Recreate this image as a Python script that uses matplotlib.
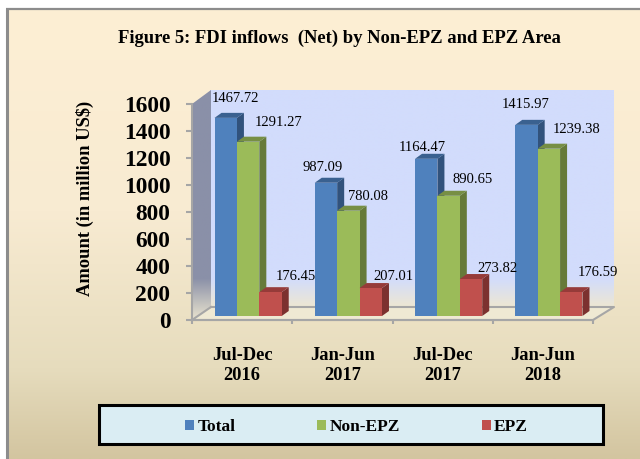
import numpy as np
import matplotlib
matplotlib.use("Agg")
import matplotlib.pyplot as plt
from matplotlib.colors import LinearSegmentedColormap
from matplotlib.patches import Polygon, Rectangle
from matplotlib.transforms import Affine2D

plt.rcParams['font.family'] = ['Liberation Serif', 'DejaVu Serif']

# Values
categories = ["Jul-Dec\n2016", "Jan-Jun\n2017", "Jul-Dec\n2017", "Jan-Jun\n2018"]
total = [1467.72, 987.09, 1164.47, 1415.97]
non_epz = [1291.27, 780.08, 890.65, 1239.38]
epz = [176.45, 207.01, 273.82, 176.59]
y_ticks = [0, 200, 400, 600, 800, 1000, 1200, 1400, 1600]

series_names = ["Total", "Non-EPZ", "EPZ"]
front_colors = ["#4F81BD", "#9BBB59", "#C0504D"]
side_colors = ["#31527C", "#667A39", "#7C312F"]
top_colors = ["#3A6190", "#778F44", "#963B39"]

# label nudges in pixels from the top-centre of each bar (right, up)
label_nudge = [
    [(10, 19), (30, 19), (25, 16)],
    [(-3, 15), (20, 14), (23, 12)],
    [(-4, 11), (24, 16), (26, 11)],
    [(-1, 20), (28, 19), (27, 20)],
]

W, H = 640, 459
fig = plt.figure(figsize=(W / 100, H / 100), dpi=100, facecolor="white")

# background layer, in pixel coordinates
bg = fig.add_axes([0, 0, 1, 1])
bg.axis("off")


def gradient(stops, extent, zorder, clip=None):
    cmap = LinearSegmentedColormap.from_list("g", stops)
    im = bg.imshow(np.linspace(0, 1, 256).reshape(-1, 1), cmap=cmap, extent=extent,
                   aspect="auto", zorder=zorder, interpolation="bilinear")
    if clip is not None:
        patch = Polygon(clip, closed=True, transform=bg.transData)
        im.set_clip_path(patch)
    return im


gradient([(0, "#FDEFD4"), (0.45, "#F8EBD2"), (0.8, "#E6DCBD"), (1, "#D3C5A0")], (8, W, H, 9), 0)
bg.plot([7, 7], [H, 8], color="#8C8C8C", lw=2.2, zorder=1, solid_capstyle="butt")
bg.plot([6, W], [8.5, 8.5], color="#8C8C8C", lw=1.6, zorder=1, solid_capstyle="butt")

gradient([(0, "#D2DCFC"), (0.87, "#D2DCFC"), (1, "#EDE7D3")], (210, 614, 307, 90), 2)
gradient([(0, "#8A90A8"), (0.82, "#8A90A8"), (1, "#EAE4CF")], (192, 211, 320, 90), 2,
         clip=[(192, 104), (211, 90), (211, 307), (192, 320)])
bg.add_patch(Polygon([(192, 320), (211, 307), (614, 307), (593, 320)], closed=True,
                     facecolor="#EFE9D3", edgecolor="none", zorder=2))
grey = "#A6A6A6"
bg.plot([211, 614, 593, 192, 211], [307, 307, 320, 320, 307], color=grey, lw=1.5, zorder=3)

# legend box
bg.add_patch(Rectangle((99, 405), 504, 39, facecolor="#DAEDF3", edgecolor="black", lw=2.2, zorder=3))
bg.set_xlim(0, W)
bg.set_ylim(H, 0)

fig.text(339 / W, 1 - 38 / H, "Figure 5: FDI inflows  (Net) by Non-EPZ and EPZ Area",
         ha="center", va="center", fontsize=13.4, fontweight="bold")

# main axes is the front plane of the 3D box
ax = fig.add_axes([192 / W, 1 - 320 / H, (593 - 192) / W, (320 - 104) / H])
ax.patch.set_alpha(0)
ax.set_xlim(0, 4)
ax.set_ylim(0, 1600)

px_x = 4 / (593 - 192)
px_y = 1600 / (320 - 104)
shift = ax.transData + Affine2D().translate(6, 4)  # bars sit back in the box

bar_w = 22.4 * px_x
depth_x = 7 * px_x
depth_y = 5 * px_y
x = np.arange(len(categories)) + 0.5

handles = []
for i, vals in enumerate([total, non_epz, epz]):
    xs = x + (i - 1) * bar_w
    for xc, v in zip(xs, vals):
        l, r = xc - bar_w / 2, xc + bar_w / 2
        ax.add_patch(Polygon([(r, 0), (r + depth_x, depth_y), (r + depth_x, v + depth_y), (r, v)],
                             closed=True, facecolor=side_colors[i], edgecolor="none",
                             transform=shift, clip_on=False, zorder=3 + i))
        ax.add_patch(Polygon([(l, v), (l + depth_x, v + depth_y), (r + depth_x, v + depth_y), (r, v)],
                             closed=True, facecolor=top_colors[i], edgecolor="none",
                             transform=shift, clip_on=False, zorder=3 + i))
    bars = ax.bar(xs, vals, bar_w, color=front_colors[i], transform=shift, clip_on=False,
                  zorder=4 + i, label=series_names[i])
    handles.append(bars)
    for j, (xc, v) in enumerate(zip(xs, vals)):
        dx, dy = label_nudge[j][i]
        ax.annotate(f"{v:.2f}", (xc, v), xycoords=shift, xytext=(dx, dy),
                    textcoords="offset pixels", ha="center", va="center",
                    fontsize=10.5, zorder=10, annotation_clip=False)

ax.set_xticks([0, 1, 2, 3, 4])
ax.set_xticklabels([])
ax.set_xticks(x, categories, minor=True)
ax.tick_params(axis="x", which="minor", length=0, pad=19.5, labelsize=13.3)
ax.tick_params(axis="x", which="major", length=3, width=1.5, color=grey)
for lab in ax.get_xticklabels(minor=True):
    lab.set_linespacing(1.25)
ax.set_yticks(y_ticks)
ax.tick_params(axis="y", length=4.5, width=1.5, color=grey, labelsize=16.8, pad=11)
for lab in ax.get_yticklabels() + ax.get_xticklabels(minor=True):
    lab.set_fontweight("bold")
for s in ["top", "right"]:
    ax.spines[s].set_visible(False)
for s in ["left", "bottom"]:
    ax.spines[s].set_color(grey)
    ax.spines[s].set_linewidth(1.5)

fig.text(85 / W, 1 - 198 / H, "Amount (in million US$)", rotation=90, ha="center", va="center",
         fontsize=13.3, fontweight="bold")

fig.legend(handles=handles, loc="center left", bbox_to_anchor=(185 / W, 1 - 427 / H), ncol=3,
           frameon=False, handlelength=0.52, handleheight=0.52, handletextpad=0.2,
           columnspacing=4.7, borderpad=0, borderaxespad=0,
           prop={"weight": "bold", "size": 12.5})

fig.savefig("out.png", dpi=100)
